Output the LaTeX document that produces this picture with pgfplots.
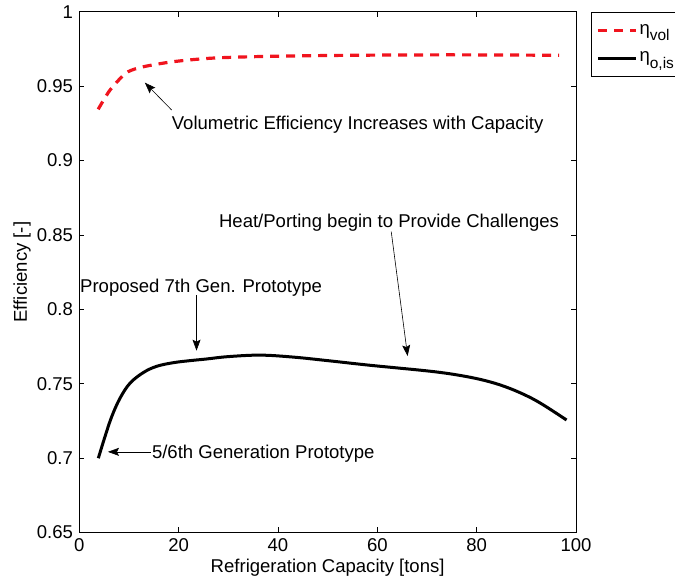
\documentclass[border=0pt]{standalone}
\usepackage{fontspec}
\setmainfont{Liberation Sans}
\usepackage{pgfplots}
\pgfplotsset{compat=1.18}
\usetikzlibrary{arrows.meta}

\definecolor{volred}{RGB}{240,20,30}

\begin{document}
\fontsize{18.6}{22}\selectfont
\begin{tikzpicture}
\begin{axis}[
  name=ax,
  scale only axis,
  width=496.7bp, height=520.8bp,
  xmin=0, xmax=100, ymin=0.65, ymax=1,
  xtick={0,20,40,60,80,100},
  ytick={0.65,0.7,0.75,0.8,0.85,0.9,0.95,1},
  tick align=inside,
  major tick length=5bp,
  axis line style={line width=0.8bp},
  every tick/.style={black, line width=0.6bp},
  /pgf/number format/assume math mode=true,
  yticklabel style={/pgf/number format/fixed, /pgf/number format/precision=2},
  tick label style={font=\fontsize{18.6}{22}\selectfont},
  label style={font=\fontsize{18.6}{22}\selectfont},
  xlabel={Refrigeration Capacity [tons]},
  xlabel style={yshift=5bp},
  ylabel={Efficiency [-]},
  ylabel style={at={(axis description cs:-0.1154,0.5)}, anchor=center},
  clip=false,
  legend cell align=left,
  legend style={at={(1,1)}, anchor=north west, xshift=15bp,
    draw=black, line width=0.8bp, font=\fontsize{18.6}{22}\selectfont,
    row sep=11bp, inner xsep=5bp, inner ysep=10bp},
  legend image code/.code={\draw[#1] (0bp,0bp) -- (38bp,0bp);},
]
\addplot[volred, line width=3.2bp, dash pattern=on 9bp off 7bp, smooth, tension=0.5] coordinates {
  (3.8,0.9344) (5.0,0.9412) (6.2,0.9474) (8.0,0.9543) (9.85,0.9597)
  (12.9,0.9630) (18.9,0.9664) (26.3,0.9687) (34.3,0.9697) (44.0,0.9703)
  (54.4,0.9707) (64.5,0.9709) (74.5,0.9710) (85.0,0.9709) (96.6,0.9707)
};
\addlegendentry{η\raisebox{-0.35em}{\fontsize{15.5}{15.5}\selectfont vol}}
\addplot[black, line width=3bp, smooth, tension=0.6] coordinates {
  (3.83,0.6999) (5.17,0.7144) (6.52,0.7278) (8.19,0.7402) (10.2,0.7503)
  (12.9,0.7575) (15.6,0.7617) (18.9,0.7641) (22.3,0.7655) (25.6,0.7666)
  (30.0,0.7682) (36.4,0.7692) (43.0,0.7679) (50.0,0.7655) (57.9,0.7626)
  (64.0,0.7606) (68.6,0.7591) (72.6,0.7576) (76.6,0.7556) (80.7,0.7529)
  (84.7,0.7492) (88.7,0.7440) (92.7,0.7372) (98.1,0.7256)
};
\addlegendentry{η\raisebox{-0.35em}{\fontsize{15.5}{15.5}\selectfont o,is}}

\coordinate (bl) at (rel axis cs:0,0);
\coordinate (tr) at (rel axis cs:1,1);

% annotations
\node[anchor=west, inner sep=0pt, yshift=-2.5bp] at (axis cs:18.6,0.9259) {Volumetric Efficiency Increases with Capacity};
\draw[-{Stealth[length=11bp,width=8bp,inset=2bp]}, line width=0.6bp] (axis cs:18.6,0.9339) -- (axis cs:13.2,0.9523);

\node[anchor=west, inner sep=0pt, yshift=-2.5bp] at (axis cs:28.1,0.8600) {Heat/Porting begin to Provide Challenges};
\draw[-{Stealth[length=11bp,width=8bp,inset=2bp]}, line width=0.6bp] (axis cs:62.8,0.8522) -- (axis cs:66.1,0.7686);

\node[anchor=west, inner sep=0pt, yshift=-2.5bp] at (axis cs:0.14,0.8163) {Proposed 7th Gen. Prototype};
\draw[-{Stealth[length=11bp,width=8bp,inset=2bp]}, line width=0.6bp] (axis cs:23.6,0.8096) -- (axis cs:23.6,0.7722);

\node[anchor=west, inner sep=0pt, yshift=-2.5bp] at (axis cs:14.6,0.7049) {5/6th Generation Prototype};
\draw[-{Stealth[length=11bp,width=8bp,inset=2bp]}, line width=0.6bp] (axis cs:14.4,0.7042) -- (axis cs:5.77,0.7042);
\end{axis}
\pgfresetboundingbox
\path[use as bounding box] ([xshift=-79.3bp,yshift=-46.5bp]bl) rectangle ([xshift=99bp,yshift=11.7bp]tr);
\end{tikzpicture}
\end{document}
